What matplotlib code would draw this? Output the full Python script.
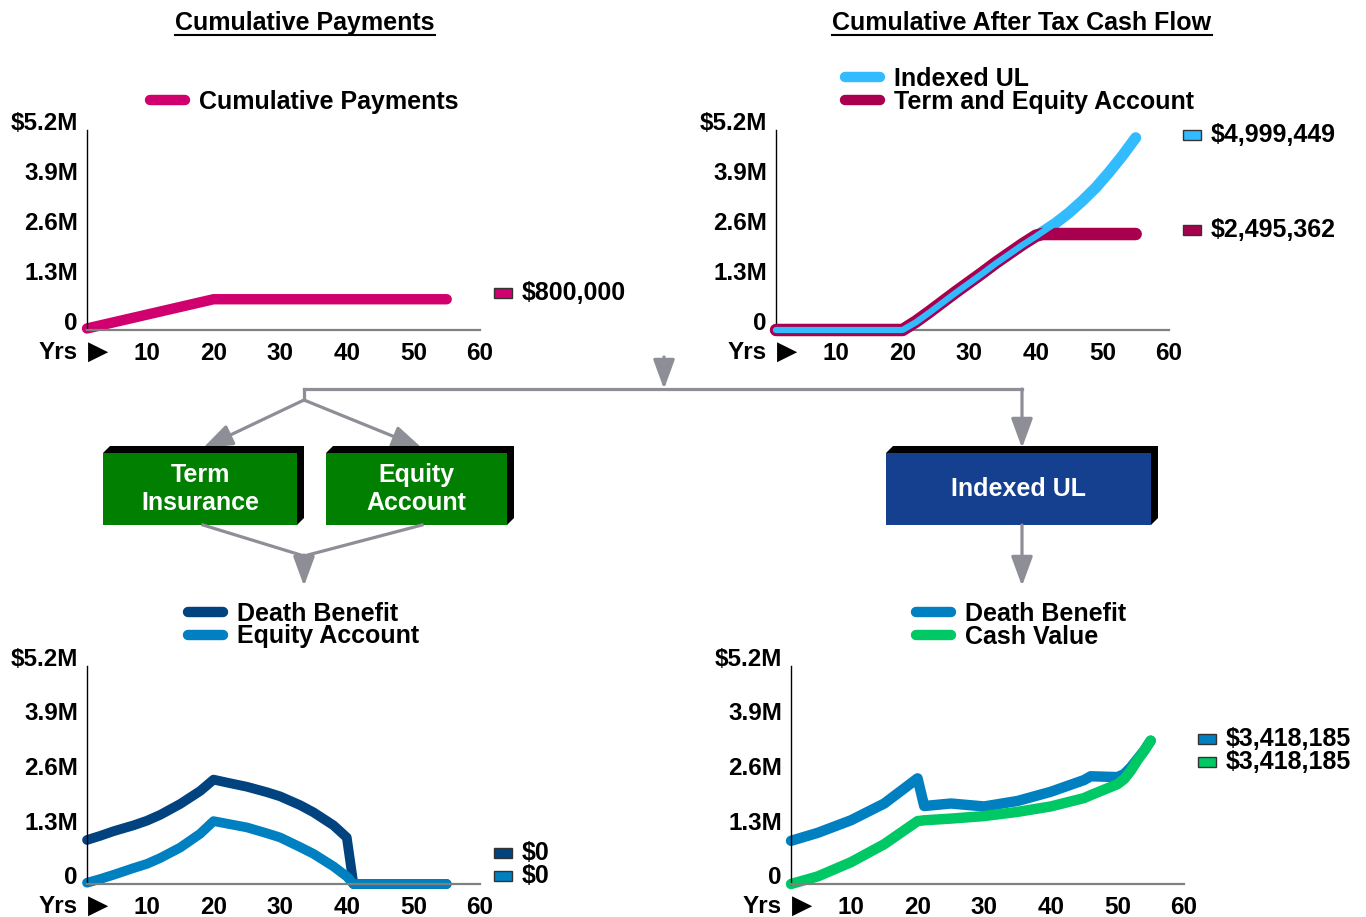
import matplotlib
matplotlib.use("Agg")
import matplotlib.pyplot as plt
from matplotlib.patches import Rectangle, Polygon, FancyArrowPatch
from matplotlib.lines import Line2D

plt.rcParams["font.family"] = ["Liberation Sans", "DejaVu Sans"]
plt.rcParams["font.weight"] = "bold"

# ---- data (values in dollars) ----
years_pay = [1, 20, 55]
cum_payments = [40000, 800000, 800000]

years_cf = [1, 20, 22, 24, 26, 28, 30, 32, 34, 36, 38, 40, 41,
            43, 45, 47, 49, 51, 53, 55]
term_equity_cf = [0, 0, 220000, 470000, 730000, 990000, 1240000, 1490000,
                  1750000, 1990000, 2230000, 2450000, 2495362,
                  2495362, 2495362, 2495362, 2495362, 2495362, 2495362, 2495362]
iul_cf = [0, 0, 200000, 450000, 710000, 970000, 1220000, 1470000,
          1730000, 1970000, 2210000, 2430000, 2550000,
          2780000, 3050000, 3360000, 3700000, 4100000, 4530000, 4999449]

years_ta = [1, 3, 5, 8, 10, 12, 15, 18, 20, 22, 25, 28, 30, 33, 35, 38, 40, 41, 55]
term_db = [1050000, 1150000, 1260000, 1400000, 1510000, 1650000, 1910000,
           2220000, 2490000, 2420000, 2320000, 2190000, 2090000, 1880000,
           1710000, 1400000, 1110000, 0, 0]
equity_acct = [30000, 120000, 220000, 380000, 480000, 620000, 870000,
               1200000, 1500000, 1440000, 1350000, 1210000, 1110000, 880000,
               720000, 420000, 180000, 0, 0]

years_iul = [1, 5, 10, 15, 20, 21, 25, 30, 35, 40, 45, 46, 50, 51, 52, 53, 54, 55]
iul_db = [1030000, 1220000, 1520000, 1920000, 2520000, 1860000, 1920000, 1850000,
          1980000, 2200000, 2480000, 2570000, 2550000, 2620000, 2780000, 2980000,
          3180000, 3418185]
iul_cv = [0, 180000, 520000, 950000, 1500000, 1520000, 1560000, 1620000,
          1720000, 1850000, 2050000, 2120000, 2380000, 2500000, 2700000, 2950000,
          3170000, 3418185]

x_ticks = [10, 20, 30, 40, 50, 60]
y_ticks = [0, 1300000, 2600000, 3900000, 5200000]
y_labels = ["0", "1.3M", "2.6M", "3.9M", "$5.2M"]

c_pay = "#d1006f"
c_iul = "#33bbff"
c_term = "#a8004f"
c_db_dark = "#00437f"
c_blue = "#0080c0"
c_green = "#00c864"
c_box_green = "#007f00"
c_box_blue = "#153f8f"
gray = "#8e8e96"

W, H = 1366, 917
fig = plt.figure(figsize=(W / 100, H / 100), dpi=100)


def fx(x):
    return x / W


def fy(y):
    return 1 - y / H


def axes_px(left, top, right, bottom):
    return fig.add_axes([fx(left), fy(bottom), (right - left) / W, (bottom - top) / H])


def setup(ax):
    ax.set_xlim(1, 60)
    ax.set_ylim(0, 5200000)
    for s in ["top", "right"]:
        ax.spines[s].set_visible(False)
    ax.spines["left"].set_color("black")
    ax.spines["left"].set_linewidth(1)
    ax.spines["bottom"].set_color("#808080")
    ax.spines["bottom"].set_linewidth(1.6)
    ax.set_xticks(x_ticks)
    ax.set_xticklabels([str(t) for t in x_ticks])
    ax.set_yticks(y_ticks)
    ax.set_yticklabels(y_labels, va="baseline")
    ax.tick_params(length=0, labelsize=17.5)
    ax.tick_params(axis="x", pad=8.5)
    ax.tick_params(axis="y", pad=6.5)
    ax.patch.set_alpha(0)
    ax.annotate("Yrs", xy=(0, 0), xycoords="axes fraction", xytext=(-6.5, -16),
                textcoords="offset points", ha="right", va="center", fontsize=17.5)
    ax.annotate("\u25B6", xy=(0, 0), xycoords="axes fraction", xytext=(0.5, -16),
                textcoords="offset points", ha="left", va="center", fontsize=19,
                family="DejaVu Sans")


def draw(ax, x, y, color, lw=7.5, z=2):
    ax.plot(x, y, color=color, lw=lw, solid_capstyle="round",
            solid_joinstyle="round", clip_on=False, zorder=z)


def legend(ax, handles_info, left, top):
    handles = [Line2D([], [], color=c, lw=7.5, solid_capstyle="round") for c, _ in handles_info]
    labels = [t for _, t in handles_info]
    ax.legend(handles, labels, loc="upper left", bbox_to_anchor=(fx(left), fy(top)),
              bbox_transform=fig.transFigure, frameon=False, fontsize=18,
              handlelength=1.4, handletextpad=0.55, labelspacing=-0.06,
              borderpad=0, borderaxespad=0)


def end_tag(ax, value, dy, color):
    px, py = ax.transData.transform((60, value))
    cy = py + dy
    fig.add_artist(Rectangle(((px + 14) / W, (cy - 5) / H), 18 / W, 10 / H,
                             transform=fig.transFigure, facecolor=color,
                             edgecolor="#333333", lw=1))
    fig.text((px + 42) / W, cy / H, f"${value:,.0f}", ha="left", va="center", fontsize=18)


# ---- charts ----
ax1 = axes_px(87, 130, 480, 330)
setup(ax1)
draw(ax1, years_pay, cum_payments, c_pay)
legend(ax1, [(c_pay, "Cumulative Payments")], 150, 90)
end_tag(ax1, cum_payments[-1], 6, c_pay)

ax2 = axes_px(776, 130, 1169, 330)
setup(ax2)
draw(ax2, years_cf, iul_cf, c_iul, lw=8, z=2)
draw(ax2, years_cf, term_equity_cf, c_term, lw=9, z=3)
draw(ax2, years_cf, iul_cf, c_iul, lw=4.5, z=4)
legend(ax2, [(c_iul, "Indexed UL"), (c_term, "Term and Equity Account")], 845, 67)
end_tag(ax2, iul_cf[-1], 3, c_iul)
end_tag(ax2, term_equity_cf[-1], 4, c_term)

ax3 = axes_px(87, 666, 480, 884)
setup(ax3)
draw(ax3, years_ta, term_db, c_db_dark, lw=7)
draw(ax3, years_ta, equity_acct, c_blue, lw=7)
legend(ax3, [(c_db_dark, "Death Benefit"), (c_blue, "Equity Account")], 188, 602)
end_tag(ax3, term_db[-1], 31, c_db_dark)
end_tag(ax3, equity_acct[-1], 8, c_blue)

ax4 = axes_px(791, 666, 1184, 884)
setup(ax4)
draw(ax4, years_iul, iul_db, c_blue)
draw(ax4, years_iul, iul_cv, c_green)
legend(ax4, [(c_blue, "Death Benefit"), (c_green, "Cash Value")], 916, 602)
end_tag(ax4, iul_db[-1], 2, c_blue)
end_tag(ax4, iul_cv[-1], -21, c_green)

# ---- titles with underline ----
titles = []
for cx, txt in [(305, "Cumulative Payments"), (1022, "Cumulative After Tax Cash Flow")]:
    titles.append(fig.text(fx(cx), fy(23), txt, ha="center", va="center", fontsize=18))


# ---- flow diagram ----
def seg(p0, p1):
    fig.add_artist(Line2D([fx(p0[0]), fx(p1[0])], [fy(p0[1]), fy(p1[1])],
                          transform=fig.transFigure, color=gray, lw=2.3))


def arrow(p0, p1):
    fig.add_artist(FancyArrowPatch((fx(p0[0]), fy(p0[1])), (fx(p1[0]), fy(p1[1])),
                                   transform=fig.transFigure,
                                   arrowstyle="-|>,head_length=1.5,head_width=0.55",
                                   mutation_scale=12, color=gray, lw=2.3,
                                   shrinkA=0, shrinkB=0))


def box(left, top, right, bottom, color, text, d=7):
    pts = [(left, top), (left + d, top - d), (right + d, top - d),
           (right + d, bottom - d), (right, bottom), (right, top)]
    fig.add_artist(Polygon([(fx(a), fy(b)) for a, b in pts], closed=True,
                           transform=fig.transFigure, facecolor="black", edgecolor="none"))
    fig.add_artist(Rectangle((fx(left), fy(bottom)), (right - left) / W, (bottom - top) / H,
                             transform=fig.transFigure, facecolor=color, edgecolor="none"))
    fig.text(fx((left + right) / 2), fy((top + bottom) / 2), text, ha="center",
             va="center", color="white", fontsize=18, linespacing=1.2)


arrow((664, 357), (664, 389))
seg((304, 389), (1022, 389))
seg((304, 389), (304, 400))
arrow((304, 400), (203, 448))
arrow((304, 400), (422, 448))
arrow((1022, 389), (1022, 448))

box(103, 453, 297, 525, c_box_green, "Term\nInsurance")
box(326, 453, 507, 525, c_box_green, "Equity\nAccount")
box(886, 453, 1151, 525, c_box_blue, "Indexed UL")

seg((203, 525), (304, 556))
seg((422, 525), (304, 556))
arrow((304, 555), (304, 586))
arrow((1022, 525), (1022, 586))

fig.canvas.draw()
for t in titles:
    bb = t.get_window_extent()
    fig.add_artist(Line2D([bb.x0 / W, bb.x1 / W], [fy(35), fy(35)],
                          transform=fig.transFigure, color="black", lw=1.5))

fig.savefig("out.png", dpi=100)
